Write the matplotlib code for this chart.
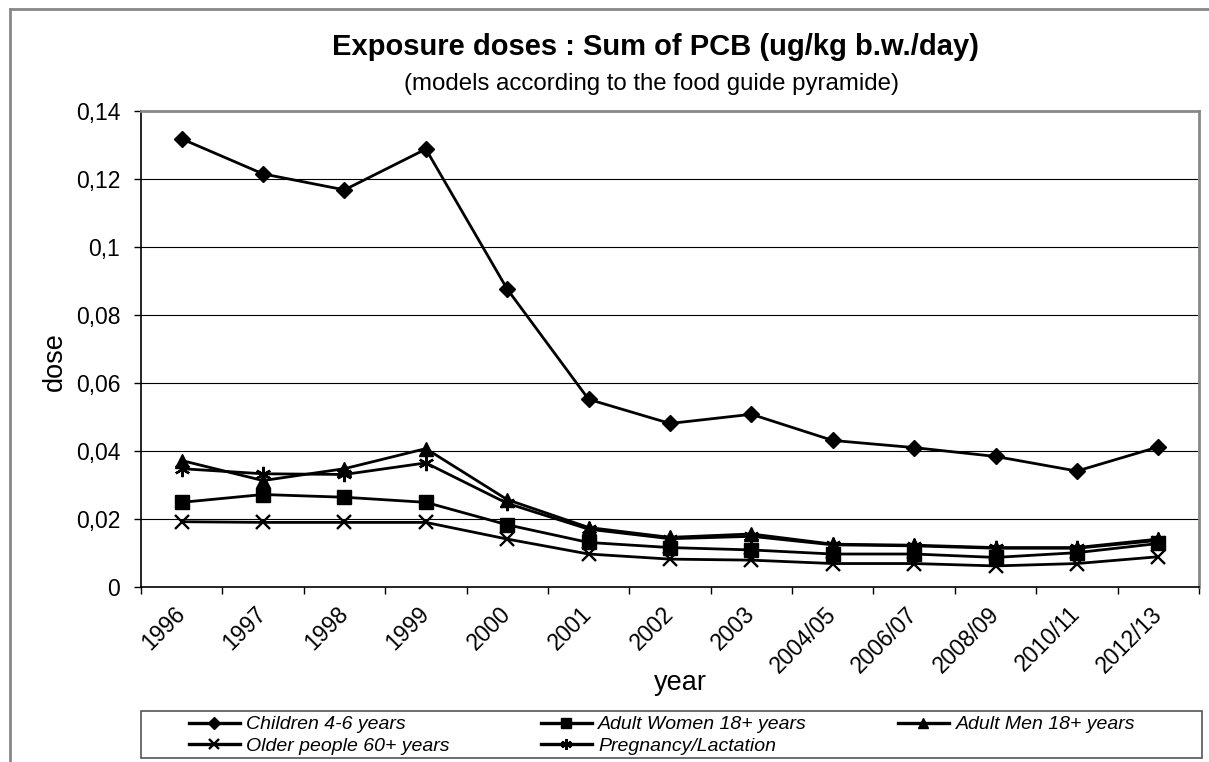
import numpy as np
import matplotlib
matplotlib.use('Agg')
import matplotlib.pyplot as plt
from matplotlib.lines import Line2D
from matplotlib.patches import Rectangle

plt.rcParams['font.family'] = ['Liberation Sans', 'DejaVu Sans']

years = ['1996', '1997', '1998', '1999', '2000', '2001', '2002', '2003',
         '2004/05', '2006/07', '2008/09', '2010/11', '2012/13']

children = [0.1318, 0.1215, 0.1168, 0.1288, 0.0876, 0.0552, 0.0481, 0.0508,
            0.0431, 0.0410, 0.0384, 0.0341, 0.0412]
women = [0.0249, 0.0272, 0.0264, 0.0249, 0.0183, 0.0131, 0.0116, 0.0109,
         0.0097, 0.0097, 0.0087, 0.0101, 0.0128]
men = [0.0372, 0.0313, 0.0348, 0.0407, 0.0257, 0.0175, 0.0146, 0.0156,
       0.0126, 0.0123, 0.0116, 0.0116, 0.0141]
older = [0.0192, 0.0190, 0.0190, 0.0190, 0.0141, 0.0097, 0.0082, 0.0079,
         0.0069, 0.0069, 0.0062, 0.0069, 0.0089]
pregnancy = [0.0348, 0.0333, 0.0331, 0.0365, 0.0246, 0.0170, 0.0142, 0.0149,
             0.0124, 0.0121, 0.0114, 0.0114, 0.0137]

labels = ['Children 4-6 years', 'Adult Women 18+ years', 'Adult Men 18+ years',
          'Older people 60+ years', 'Pregnancy/Lactation']

yticks = [0, 0.02, 0.04, 0.06, 0.08, 0.1, 0.12, 0.14]
ytick_labels = ['0', '0,02', '0,04', '0,06', '0,08', '0,1', '0,12', '0,14']

W, H = 1209, 762
fig = plt.figure(figsize=(W / 100, H / 100), dpi=100)
ax = fig.add_axes([141 / W, 1 - 587 / H, (1199 - 141) / W, (587 - 111) / H])

x = np.arange(len(years))
lw = 2
h1, = ax.plot(x, children, color='black', lw=lw, marker='D', ms=8.5)
h2, = ax.plot(x, women, color='black', lw=lw, marker='s', ms=10)
h3, = ax.plot(x, men, color='black', lw=lw, marker='^', ms=10)
h4, = ax.plot(x, older, color='black', lw=lw, marker='x', ms=10, mew=1.7)
h5, = ax.plot(x, pregnancy, color='black', lw=lw, marker=(6, 2, 0), ms=11, mew=1.7)

ax.set_xlim(-0.5, len(years) - 0.5)
ax.set_ylim(0, 0.14)
ax.set_yticks(yticks)
ax.set_yticklabels(ytick_labels, fontsize=16.5)
for v in yticks[1:-1]:
    ax.axhline(v, color='black', lw=0.8, zorder=0)

ax.set_xticks(np.arange(len(years) + 1) - 0.5)
ax.set_xticklabels([])
ax.set_xticks(x, minor=True)
ax.set_xticklabels(years, minor=True, rotation=45, ha='right', va='center',
                   rotation_mode='anchor', fontsize=16.5)
ax.tick_params(axis='x', which='minor', length=0, pad=17)
ax.tick_params(axis='both', which='major', direction='out', length=5, width=1, color='black')
ax.tick_params(axis='y', pad=10)

for s in ['top', 'right']:
    ax.spines[s].set_color('#888888')
    ax.spines[s].set_linewidth(2)
for s in ['left', 'bottom']:
    ax.spines[s].set_color('black')
    ax.spines[s].set_linewidth(1.2)

fig.text(680 / W, 1 - 683 / H, 'year', ha='center', va='center', fontsize=19.5)
fig.text(55 / W, 1 - 362 / H, 'dose', ha='center', va='center', rotation=90, fontsize=19.5)

fig.text(655 / W, 1 - 47 / H, 'Exposure doses : Sum of PCB (ug/kg b.w./day)',
         ha='center', va='center', fontsize=21, fontweight='bold')
fig.text(652 / W, 1 - 84 / H, '(models according to the food guide pyramide)',
         ha='center', va='center', fontsize=17.3)

# legend box
fig.add_artist(Rectangle((141 / W, 1 - 758 / H), (1202 - 141) / W, (758 - 711) / H,
                         transform=fig.transFigure, fill=False, edgecolor='#555555', lw=1.2))
leg = fig.legend([h1, h4, h2, h5, h3],
                 [labels[0], labels[3], labels[1], labels[4], labels[2]],
                 ncol=3, mode='expand', loc='center left',
                 bbox_to_anchor=(189 / W, 1 - 759 / H, (1135 - 189) / W, (758 - 711) / H),
                 prop={'style': 'italic', 'size': 14}, frameon=False,
                 handlelength=2.6, handletextpad=0.35, borderpad=0, labelspacing=0.22,
                 borderaxespad=0, markerscale=0.7)
for ln in leg.get_lines():
    ln.set_linewidth(2.4)

# outer chart border (cut off on the right and bottom)
fig.add_artist(Line2D([10 / W, 10 / W], [0, 1 - 9 / H], transform=fig.transFigure,
                      color='#888888', lw=2))
fig.add_artist(Line2D([10 / W, 1], [1 - 9 / H, 1 - 9 / H], transform=fig.transFigure,
                      color='#888888', lw=2))

fig.savefig('out.png', dpi=100)
